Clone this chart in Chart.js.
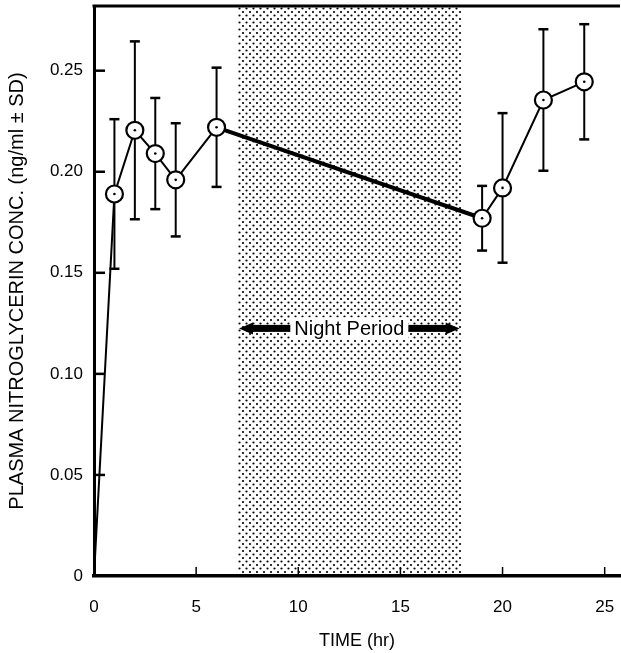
<!DOCTYPE html>
<html>
<head>
  <title>Plasma Nitroglycerin</title>
  <script src="https://cdn.jsdelivr.net/npm/chart.js"></script>
  <style>
    html, body { margin: 0; padding: 0; background: #fff; }
  </style>
</head>
<body>
<canvas id="chart" width="621" height="653"></canvas>

<script>
  // values
  const times = [0, 1, 2, 3, 4, 6, 19, 20, 22, 24];
  const conc = [0, 0.189, 0.2205, 0.209, 0.196, 0.222, 0.177, 0.192, 0.2355, 0.2445];
  const sd = [0, 0.037, 0.044, 0.0275, 0.028, 0.0295, 0.016, 0.037, 0.035, 0.0285];
  const xTicks = [0, 5, 10, 15, 20, 25];
  const yTicks = [0, 0.05, 0.10, 0.15, 0.20, 0.25];
  const nightStart = 7;
  const nightEnd = 18;
  const nightLabel = "Night Period";
  const nightLabelY = 0.1225;
  const xTitle = "TIME (hr)";
  const yTitle = "PLASMA NITROGLYCERIN CONC. (ng/ml \u00b1 SD)";

  const FONT = '"Liberation Sans", Arial, sans-serif';

  // dotted fill for the night band
  function dotPattern(ctx) {
    const c = document.createElement("canvas");
    c.width = 7; c.height = 7;
    const p = c.getContext("2d");
    p.fillStyle = "#000";
    [[1.5, 1.5], [5, 5]].forEach(d => {
      p.beginPath();
      p.arc(d[0], d[1], 1.1, 0, Math.PI * 2);
      p.fill();
    });
    return ctx.createPattern(c, "repeat");
  }

  function line(ctx, x1, y1, x2, y2) {
    ctx.beginPath();
    ctx.moveTo(x1, y1);
    ctx.lineTo(x2, y2);
    ctx.stroke();
  }

  const figurePlugin = {
    id: "figure",
    beforeDatasetsDraw(chart) {
      const { ctx, chartArea: a, scales: { x, y } } = chart;
      ctx.save();

      // night period band
      const x0 = x.getPixelForValue(nightStart);
      const x1 = x.getPixelForValue(nightEnd);
      ctx.fillStyle = dotPattern(ctx);
      ctx.fillRect(x0, a.top, x1 - x0, a.bottom - a.top);

      // label with arrows
      const ly = y.getPixelForValue(nightLabelY);
      const lx = x.getPixelForValue((nightStart + nightEnd) / 2);
      ctx.font = "20px " + FONT;
      const tw = ctx.measureText(nightLabel).width;
      ctx.fillStyle = "#fff";
      ctx.fillRect(lx - tw / 2 - 4, ly - 11, tw + 8, 22);
      ctx.fillStyle = "#000";
      ctx.textAlign = "center";
      ctx.textBaseline = "middle";
      ctx.fillText(nightLabel, lx, ly + 1);

      const leftEnd = lx - tw / 2 - 4;
      const rightEnd = lx + tw / 2 + 4;
      ctx.fillRect(x0 + 14, ly - 3.5, leftEnd - x0 - 14, 7);
      ctx.fillRect(rightEnd, ly - 3.5, x1 - 14 - rightEnd, 7);
      ctx.beginPath();
      ctx.moveTo(x0 + 2, ly);
      ctx.lineTo(x0 + 16, ly - 6);
      ctx.lineTo(x0 + 16, ly + 6);
      ctx.closePath();
      ctx.fill();
      ctx.beginPath();
      ctx.moveTo(x1 - 2, ly);
      ctx.lineTo(x1 - 16, ly - 6);
      ctx.lineTo(x1 - 16, ly + 6);
      ctx.closePath();
      ctx.fill();

      // error bars (+/- SD)
      ctx.strokeStyle = "#000";
      times.forEach((t, i) => {
        if (!sd[i]) return;
        const px = x.getPixelForValue(t);
        const hi = y.getPixelForValue(conc[i] + sd[i]);
        const lo = y.getPixelForValue(conc[i] - sd[i]);
        ctx.lineWidth = 2;
        line(ctx, px, hi, px, lo);
        ctx.lineWidth = 2.5;
        line(ctx, px - 5, hi, px + 5, hi);
        line(ctx, px - 5, lo, px + 5, lo);
      });
      ctx.restore();
    },
    afterDraw(chart) {
      const { ctx, chartArea: a, scales: { x, y } } = chart;
      ctx.save();
      ctx.strokeStyle = "#000";
      // top frame line
      ctx.lineWidth = 3;
      line(ctx, a.left - 1.5, a.top, a.right, a.top);
      // inward tick marks
      ctx.lineWidth = 2.5;
      yTicks.forEach(v => {
        if (v === 0) return;
        const py = y.getPixelForValue(v);
        line(ctx, a.left, py, a.left + 11, py);
      });
      ctx.lineWidth = 1.5;
      xTicks.forEach(v => {
        if (v === 0) return;
        const px = x.getPixelForValue(v);
        line(ctx, px, a.bottom, px, a.bottom - 9);
      });
      ctx.restore();
    }
  };

  const ctx = document.getElementById("chart").getContext("2d");

  new Chart(ctx, {
    type: "line",
    data: {
      datasets: [
        {
          data: times.map((t, i) => ({ x: t, y: conc[i] })),
          borderColor: "#000",
          borderWidth: 2,
          pointRadius: times.map(t => (t === 0 ? 0 : 8.5)),
          pointBackgroundColor: "#fff",
          pointBorderColor: "#000",
          pointBorderWidth: 2.2,
          tension: 0,
          order: 1,
          segment: {
            borderWidth: c => (c.p0.parsed.x === 6 ? 4 : 2)
          }
        },
        {
          // small centre dots inside the circles
          data: times.map((t, i) => ({ x: t, y: conc[i] })),
          showLine: false,
          pointRadius: times.map(t => (t === 0 ? 0 : 1.3)),
          pointBackgroundColor: "#000",
          pointBorderWidth: 0,
          order: 0
        }
      ]
    },
    options: {
      responsive: false,
      animation: false,
      events: [],
      layout: { autoPadding: false, padding: { top: 6, right: 1, left: 0, bottom: 0 } },
      plugins: {
        legend: { display: false },
        tooltip: { enabled: false }
      },
      scales: {
        x: {
          type: "linear",
          min: 0,
          max: 25.75,
          afterBuildTicks: s => { s.ticks = xTicks.map(v => ({ value: v })); },
          afterFit: s => { s.height = 77; s.paddingLeft = 0; s.paddingRight = 0; },
          grid: { display: false, drawTicks: false },
          border: { display: true, color: "#000", width: 3.5 },
          ticks: {
            color: "#000",
            padding: 21,
            maxRotation: 0,
            font: { family: FONT, size: 17 }
          },
          title: {
            display: true,
            text: xTitle,
            color: "#000",
            padding: { top: 0, bottom: 1 },
            font: { family: FONT, size: 18 }
          }
        },
        y: {
          min: 0,
          max: 0.282,
          afterBuildTicks: s => { s.ticks = yTicks.map(v => ({ value: v })); },
          afterFit: s => { s.width = 94; s.paddingTop = 0; s.paddingBottom = 0; },
          grid: { display: false, drawTicks: false },
          border: { display: true, color: "#000", width: 3 },
          ticks: {
            color: "#000",
            padding: 11,
            font: { family: FONT, size: 17 },
            callback: v => (v === 0 ? "0" : v.toFixed(2))
          },
          title: {
            display: true,
            text: yTitle,
            color: "#000",
            padding: { top: 5, bottom: 0 },
            font: { family: FONT, size: 20 }
          }
        }
      }
    },
    plugins: [figurePlugin]
  });
</script>

</body>
</html>
